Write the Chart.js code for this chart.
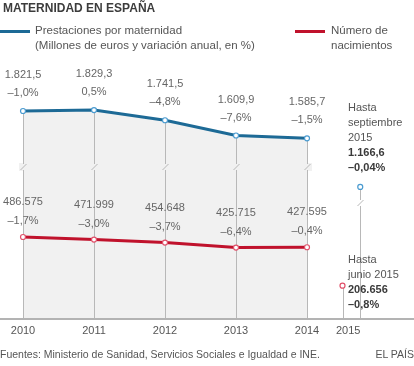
<!DOCTYPE html>
<html>
<head>
<meta charset="utf-8">
<script src="https://cdn.jsdelivr.net/npm/chart.js@4/dist/chart.umd.min.js"></script>
<style>
  html, body { margin: 0; padding: 0; background: #fff; }
  body { width: 414px; height: 366px; position: relative; overflow: hidden;
         font-family: "Liberation Sans", Arial, sans-serif; color: #555; }
  #chartBox { position: absolute; left: 0; top: 0; width: 414px; height: 366px; }
  .abs { position: absolute; white-space: nowrap; }
  .title { left: 3px; top: 1px; font-size: 12px; font-weight: bold; color: #3c3c3c; }
  .leg { font-size: 11.5px; line-height: 15px; color: #555; }
  .legline { position: absolute; height: 3px; }
  .note { font-size: 11px; line-height: 15px; color: #555; }
  .note b { color: #3a3a3a; }
  .foot { font-size: 10.5px; color: #555; top: 348px; }
</style>
</head>
<body>
<div id="chartBox"><canvas id="matChart" width="414" height="366"></canvas></div>

<div class="abs title">MATERNIDAD EN ESPAÑA</div>

<div class="legline" style="left:0; top:30px; width:30px; background:#1d6a96;"></div>
<div class="abs leg" style="left:35px; top:23px;">Prestaciones por maternidad<br>(Millones de euros y variación anual, en %)</div>
<div class="legline" style="left:295px; top:30px; width:30px; background:#c0122c;"></div>
<div class="abs leg" style="left:331px; top:23px;">Número de<br>nacimientos</div>

<div class="abs note" style="left:348px; top:100px;">Hasta<br>septiembre<br>2015<br><b>1.166,6</b><br><b>–0,04%</b></div>
<div class="abs note" style="left:348px; top:252px;">Hasta<br>junio 2015<br><b>206.656</b><br><b>–0,8%</b></div>

<div class="abs foot" style="left:0;">Fuentes: Ministerio de Sanidad, Servicios Sociales e Igualdad e INE.</div>
<div class="abs foot" style="right:0;">EL PAÍS</div>

<script>
/* ==========================================
   Datos
   ========================================== */

const years = [2010, 2011, 2012, 2013, 2014];
const prestaciones = [1821.5, 1829.3, 1741.5, 1609.9, 1585.7];     // millones de euros
const prestacionesVar = [-1.0, 0.5, -4.8, -7.6, -1.5];
const nacimientos = [486575, 471999, 454648, 425715, 427595];
const nacimientosVar = [-1.7, -3.0, -3.7, -6.4, -0.4];

// 2015 parcial (septiembre / junio)
const prest2015 = [{ x: 2014.75, y: 1166.6 }];
const nac2015 = [{ x: 2014.5, y: 206656 }];

const yearLabels = ["2010", "2011", "2012", "2013", "2014", "2015"];
const yearLabelPos = [2010, 2011, 2012, 2013, 2014, 2014.58];

const BLUE = "#1d6a96";
const RED = "#c0122c";

// formato español
function fmtNum(v, dec) {
    let s = Math.abs(v).toFixed(dec);
    let parts = s.split(".");
    parts[0] = parts[0].replace(/\B(?=(\d{3})+(?!\d))/g, ".");
    return (v < 0 ? "–" : "") + parts.join(",");
}
function fmtPct(v) {
    return fmtNum(v, 1) + "%";
}

/* ==========================================
   Plugin: rejilla, eje y etiquetas
   ========================================== */

function drawBreakFilled(ctx, x, y, bg) {
    ctx.save();
    ctx.fillStyle = bg || "#f1f1f1";
    ctx.fillRect(x - 4, y - 4, 9, 8);
    ctx.strokeStyle = "#b8b8b8";
    ctx.lineWidth = 1;
    ctx.beginPath();
    ctx.moveTo(x + 0.5, y - 6);
    ctx.lineTo(x + 0.5, y - 3);
    ctx.moveTo(x + 3.5, y - 3);
    ctx.lineTo(x - 2.5, y + 3);
    ctx.moveTo(x + 0.5, y + 3);
    ctx.lineTo(x + 0.5, y + 6);
    ctx.stroke();
    ctx.restore();
}

const decoPlugin = {
    id: "deco",
    beforeDatasetsDraw(chart) {
        const ctx = chart.ctx;
        const area = chart.chartArea;
        const xs = chart.scales.x;
        const yb = chart.scales.yBlue;
        const yr = chart.scales.yRed;

        ctx.save();
        ctx.strokeStyle = "#b8b8b8";
        ctx.lineWidth = 1;

        years.forEach(function (yr_, i) {
            const x = Math.round(xs.getPixelForValue(yr_)) + 0.5;
            ctx.beginPath();
            ctx.moveTo(x, yb.getPixelForValue(prestaciones[i]));
            ctx.lineTo(x, area.bottom);
            ctx.stroke();
        });

        // 2015
        const xb = Math.round(xs.getPixelForValue(prest2015[0].x)) + 0.5;
        ctx.beginPath();
        ctx.moveTo(xb, yb.getPixelForValue(prest2015[0].y));
        ctx.lineTo(xb, area.bottom);
        ctx.stroke();

        const xr = Math.round(xs.getPixelForValue(nac2015[0].x)) + 0.5;
        ctx.beginPath();
        ctx.moveTo(xr, yr.getPixelForValue(nac2015[0].y));
        ctx.lineTo(xr, area.bottom);
        ctx.stroke();
        ctx.restore();

        // cortes
        years.forEach(function (yr_) {
            drawBreakFilled(ctx, Math.round(xs.getPixelForValue(yr_)), 167);
        });
        drawBreakFilled(ctx, Math.round(xs.getPixelForValue(prest2015[0].x)), 203, "#fff");

        // eje x
        ctx.save();
        ctx.strokeStyle = "#b3b3b3";
        ctx.lineWidth = 2;
        ctx.beginPath();
        ctx.moveTo(0, area.bottom);
        ctx.lineTo(chart.width, area.bottom);
        ctx.stroke();
        ctx.restore();
    },
    afterDatasetsDraw(chart) {
        const ctx = chart.ctx;
        const area = chart.chartArea;
        const xs = chart.scales.x;
        const yb = chart.scales.yBlue;
        const yr = chart.scales.yRed;

        ctx.save();
        ctx.font = "11px 'Liberation Sans', Arial, sans-serif";
        ctx.fillStyle = "#666";
        ctx.textAlign = "center";
        ctx.textBaseline = "middle";

        years.forEach(function (yr_, i) {
            const x = xs.getPixelForValue(yr_);
            const by = yb.getPixelForValue(prestaciones[i]);
            ctx.fillText(fmtNum(prestaciones[i], 1), x, by - 36);
            ctx.fillText(fmtPct(prestacionesVar[i]), x, by - 18);

            const ry = yr.getPixelForValue(nacimientos[i]);
            ctx.fillText(fmtNum(nacimientos[i], 0), x, ry - 35);
            ctx.fillText(fmtPct(nacimientosVar[i]), x, ry - 16);
        });

        // años
        ctx.fillStyle = "#555";
        yearLabels.forEach(function (lab, i) {
            ctx.fillText(lab, xs.getPixelForValue(yearLabelPos[i]), area.bottom + 12);
        });
        ctx.restore();
    }
};

/* ==========================================
   Gráfico
   ========================================== */

document.addEventListener("DOMContentLoaded", function () {

    const ctx = document.getElementById("matChart");

    new Chart(ctx, {
        type: "line",
        data: {
            datasets: [
                {
                    label: "Prestaciones por maternidad",
                    data: years.map((y, i) => ({ x: y, y: prestaciones[i] })),
                    yAxisID: "yBlue",
                    borderColor: BLUE,
                    borderWidth: 3,
                    backgroundColor: "#f1f1f1",
                    fill: "start",
                    tension: 0,
                    pointRadius: 2.5,
                    pointBorderWidth: 1.2,
                    pointBorderColor: "#4a9bd0",
                    pointBackgroundColor: "#fff",
                    order: 2
                },
                {
                    label: "Número de nacimientos",
                    data: years.map((y, i) => ({ x: y, y: nacimientos[i] })),
                    yAxisID: "yRed",
                    borderColor: RED,
                    borderWidth: 3,
                    fill: false,
                    tension: 0,
                    pointRadius: 2.5,
                    pointBorderWidth: 1.2,
                    pointBorderColor: "#e0506a",
                    pointBackgroundColor: "#fff",
                    order: 1
                },
                {
                    label: "Prestaciones 2015",
                    data: prest2015,
                    yAxisID: "yBlue",
                    showLine: false,
                    pointRadius: 2.5,
                    pointBorderWidth: 1.2,
                    pointBorderColor: "#4a9bd0",
                    pointBackgroundColor: "#fff"
                },
                {
                    label: "Nacimientos 2015",
                    data: nac2015,
                    yAxisID: "yRed",
                    showLine: false,
                    pointRadius: 2.5,
                    pointBorderWidth: 1.2,
                    pointBorderColor: "#e0506a",
                    pointBackgroundColor: "#fff"
                }
            ]
        },
        options: {
            responsive: false,
            animation: false,
            layout: {
                autoPadding: false,
                padding: { top: 60, bottom: 47, left: 0, right: 0 }
            },
            plugins: {
                legend: { display: false },
                tooltip: { enabled: false },
                filler: { drawTime: "beforeDatasetsDraw" }
            },
            scales: {
                x: {
                    type: "linear",
                    min: 2009.676,
                    max: 2015.507,
                    display: false
                },
                yBlue: {
                    type: "linear",
                    min: 28,
                    max: 2261,
                    display: false
                },
                yRed: {
                    type: "linear",
                    min: 15311,
                    max: 1503816,
                    display: false
                }
            }
        },
        plugins: [decoPlugin]
    });

});
</script>
</body>
</html>
